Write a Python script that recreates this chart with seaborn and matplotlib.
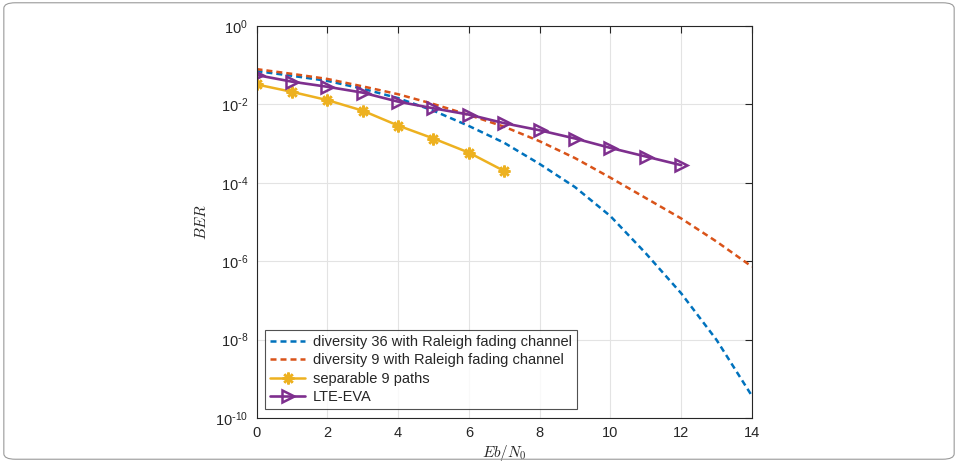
import numpy as np
import pandas as pd
import seaborn as sns
import matplotlib.pyplot as plt
from matplotlib.patches import FancyBboxPatch
from matplotlib.ticker import FuncFormatter, NullLocator

# 数据（从图中读取的 log10(BER)）
ebn0_full = [0, 1, 2, 3, 4, 5, 6, 7, 8, 9, 10, 11, 12, 13, 14]
log_div36 = [-1.15, -1.27, -1.40, -1.60, -1.84, -2.16, -2.55, -2.98, -3.52, -4.11, -4.85, -5.80, -6.82, -8.01, -9.44]
log_div9 = [-1.10, -1.22, -1.35, -1.54, -1.74, -1.99, -2.27, -2.57, -2.94, -3.37, -3.87, -4.39, -4.91, -5.50, -6.14]

ebn0_sep = [0, 1, 2, 3, 4, 5, 6, 7]
log_sep9 = [-1.49, -1.68, -1.89, -2.16, -2.54, -2.87, -3.23, -3.70]

ebn0_lte = [0, 1, 2, 3, 4, 5, 6, 7, 8, 9, 10, 11, 12]
log_lte = [-1.25, -1.42, -1.55, -1.70, -1.93, -2.10, -2.26, -2.48, -2.66, -2.87, -3.11, -3.33, -3.55]

labels = ['diversity 36 with Raleigh fading channel',
          'diversity 9 with Raleigh fading channel',
          'separable 9 paths',
          'LTE-EVA']
colors = ['#0072BD', '#D95319', '#EDB120', '#7E2F8E']

sns.set_style('white')
plt.rcParams['font.family'] = ['Liberation Sans', 'DejaVu Sans']
plt.rcParams['font.size'] = 10
plt.rcParams['axes.unicode_minus'] = False


def sup_label(v, p):
    e = int(round(np.log10(v)))
    if e < 0:
        return r'$\mathdefault{10^{\text{-}%d}}$' % (-e)
    return r'$\mathdefault{10^{%d}}$' % e


fig = plt.figure(figsize=(9.58, 4.62), dpi=100)
ax = fig.add_axes([256.5 / 958, 1 - 418 / 462, (752 - 256.5) / 958, (418 - 26) / 462])

# 外框
fig.patches.append(FancyBboxPatch((0.004, 0.006), 0.992, 0.988,
                                  boxstyle='round,pad=0,rounding_size=0.012',
                                  transform=fig.transFigure, fill=False,
                                  edgecolor='#9a9a9a', linewidth=0.8))

dash = (0, (2.4, 1.6))
sns.lineplot(x=ebn0_full, y=10 ** np.array(log_div36), ax=ax, color=colors[0],
             linestyle=dash, linewidth=1.8, label=labels[0])
sns.lineplot(x=ebn0_full, y=10 ** np.array(log_div9), ax=ax, color=colors[1],
             linestyle=dash, linewidth=1.8, label=labels[1])
sns.lineplot(x=ebn0_sep, y=10 ** np.array(log_sep9), ax=ax, color=colors[2],
             linewidth=1.8, marker=(8, 2, 0), markersize=8.5, markeredgewidth=1.8,
             markeredgecolor=colors[2], label=labels[2])
sns.lineplot(x=ebn0_lte, y=10 ** np.array(log_lte), ax=ax, color=colors[3],
             linewidth=1.9, marker='>', markersize=9, markerfacecolor='none',
             markeredgewidth=1.8, markeredgecolor=colors[3], label=labels[3])

ax.set_yscale('log')
ax.set_xlim(0, 14)
ax.set_ylim(1e-10, 1)
ax.set_xticks(range(0, 15, 2))
ax.set_yticks([1e-10, 1e-8, 1e-6, 1e-4, 1e-2, 1e0])
ax.yaxis.set_major_formatter(FuncFormatter(sup_label))
ax.yaxis.set_minor_locator(NullLocator())

ax.grid(True, color='#e3e3e3', linewidth=0.8)
ax.set_axisbelow(True)
for s in ax.spines.values():
    s.set_color('#262626')
    s.set_linewidth(0.8)
ax.tick_params(direction='in', length=5, width=0.8, color='#262626',
               top=True, right=True, labelsize=10.5, labelcolor='#262626', pad=6)

ax.set_xlabel('$Eb/N_0$', fontsize=11, math_fontfamily='cm', labelpad=2)
ax.set_ylabel('$BER$', fontsize=11, math_fontfamily='cm', labelpad=4)

leg = ax.legend(loc='lower left', bbox_to_anchor=(0.0, 0.0), fontsize=10.5,
                frameon=True, fancybox=False, edgecolor='#262626',
                handlelength=2.4, handletextpad=0.5, labelspacing=0.3,
                borderpad=0.35, borderaxespad=0.6)
leg.get_frame().set_linewidth(0.8)

plt.savefig('out.png', dpi=100)
